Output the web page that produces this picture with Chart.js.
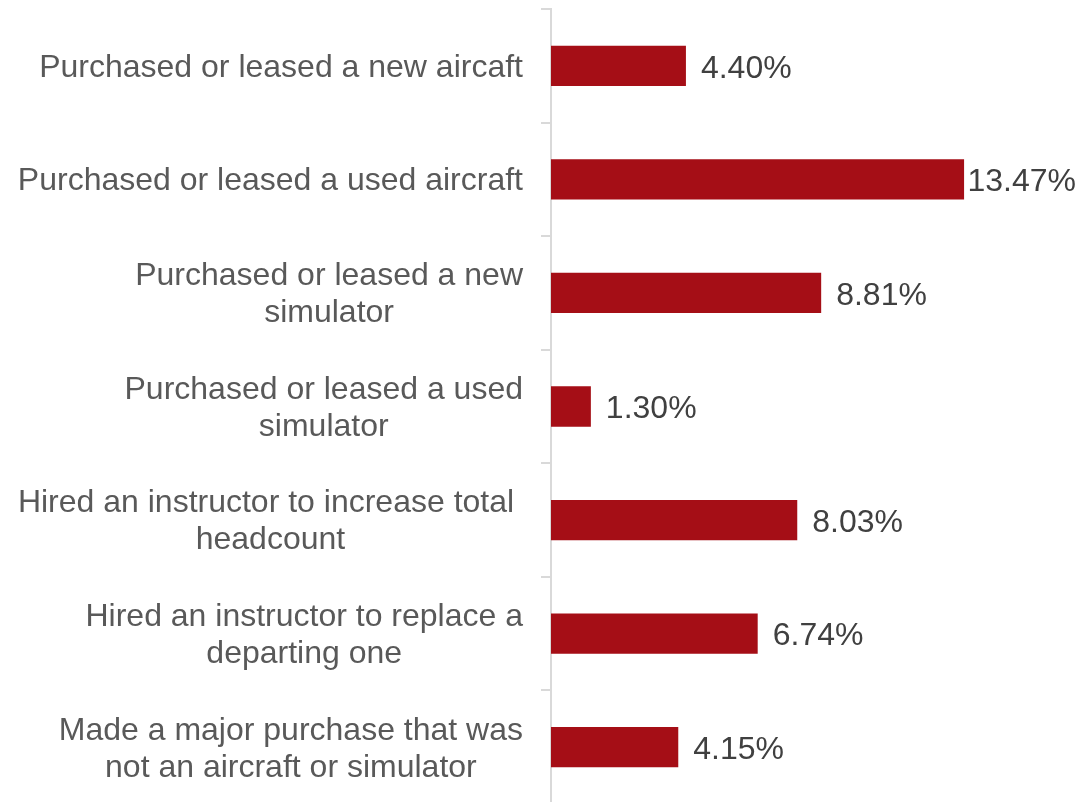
<!DOCTYPE html>
<html>
<head>
<meta charset="utf-8">
<script src="https://cdn.jsdelivr.net/npm/chart.js@4.4.0/dist/chart.umd.min.js"></script>
<style>
    html, body { margin: 0; padding: 0; background: #ffffff; overflow: hidden; }
    #wrap { width: 1079px; height: 812px; }
</style>
</head>
<body>
<div id="wrap"><canvas id="acciones"></canvas></div>
<script>
const categorias = [
    ['Purchased or leased a new aircaft'],
    ['Purchased or leased a used aircraft'],
    ['Purchased or leased a new', 'simulator'],
    ['Purchased or leased a used', 'simulator'],
    ['Hired an instructor to increase total ', 'headcount'],
    ['Hired an instructor to replace a', 'departing one'],
    ['Made a major purchase that was', 'not an aircraft or simulator']
];
const porcentajes = [4.40, 13.47, 8.81, 1.30, 8.03, 6.74, 4.15];

const fuente = '32px "Liberation Sans", Arial, sans-serif';

// etiquetas de categoria: bloque alineado a la derecha, lineas centradas
const etiquetas = {
    id: 'etiquetas',
    afterDraw(chart) {
        const ctx = chart.ctx;
        const y = chart.scales.y;
        const x = chart.scales.x;
        const derecha = chart.chartArea.left - 28;
        ctx.save();
        ctx.font = fuente;
        ctx.textBaseline = 'middle';
        for (let i = 0; i < categorias.length; i++) {
            const lineas = categorias[i];
            let ancho = 0;
            lineas.forEach(l => { ancho = Math.max(ancho, ctx.measureText(l).width); });
            const cx = derecha - ancho / 2;
            const cy = y.getPixelForValue(i) + 2;
            const alto = 37;
            ctx.fillStyle = '#595959';
            ctx.textAlign = 'center';
            lineas.forEach((l, j) => {
                ctx.fillText(l, cx, cy + (j - (lineas.length - 1) / 2) * alto);
            });
            // valor al final de la barra, sin salirse del canvas
            const texto = porcentajes[i].toFixed(2) + '%';
            const w = ctx.measureText(texto).width;
            const vx = Math.min(x.getPixelForValue(porcentajes[i]) + 15, chart.width - w - 3);
            ctx.fillStyle = '#404040';
            ctx.textAlign = 'left';
            ctx.fillText(texto, vx, cy + 1);
        }
        ctx.restore();
    }
};

const ctx = document.getElementById('acciones');
new Chart(ctx, {
    type: 'bar',
    data: {
        labels: categorias,
        datasets: [{
            data: porcentajes,
            backgroundColor: '#A50E16',
            borderWidth: 0,
            barPercentage: 0.355,
            categoryPercentage: 1
        }]
    },
    options: {
        indexAxis: 'y',
        responsive: true,
        maintainAspectRatio: false,
        animation: false,
        events: [],
        layout: { padding: { top: 9, bottom: 8, left: 0, right: 68 } },
        plugins: {
            legend: { display: false },
            tooltip: { enabled: false }
        },
        scales: {
            x: {
                display: false,
                min: 0,
                max: 15
            },
            y: {
                afterFit(scale) { scale.width = 551; },
                ticks: { display: false },
                border: { display: true, color: '#D9D9D9', width: 2 },
                grid: {
                    offset: true,
                    drawOnChartArea: false,
                    drawTicks: true,
                    tickLength: 10,
                    color: '#D9D9D9',
                    lineWidth: 2
                }
            }
        }
    },
    plugins: [etiquetas]
});
</script>
</body>
</html>
